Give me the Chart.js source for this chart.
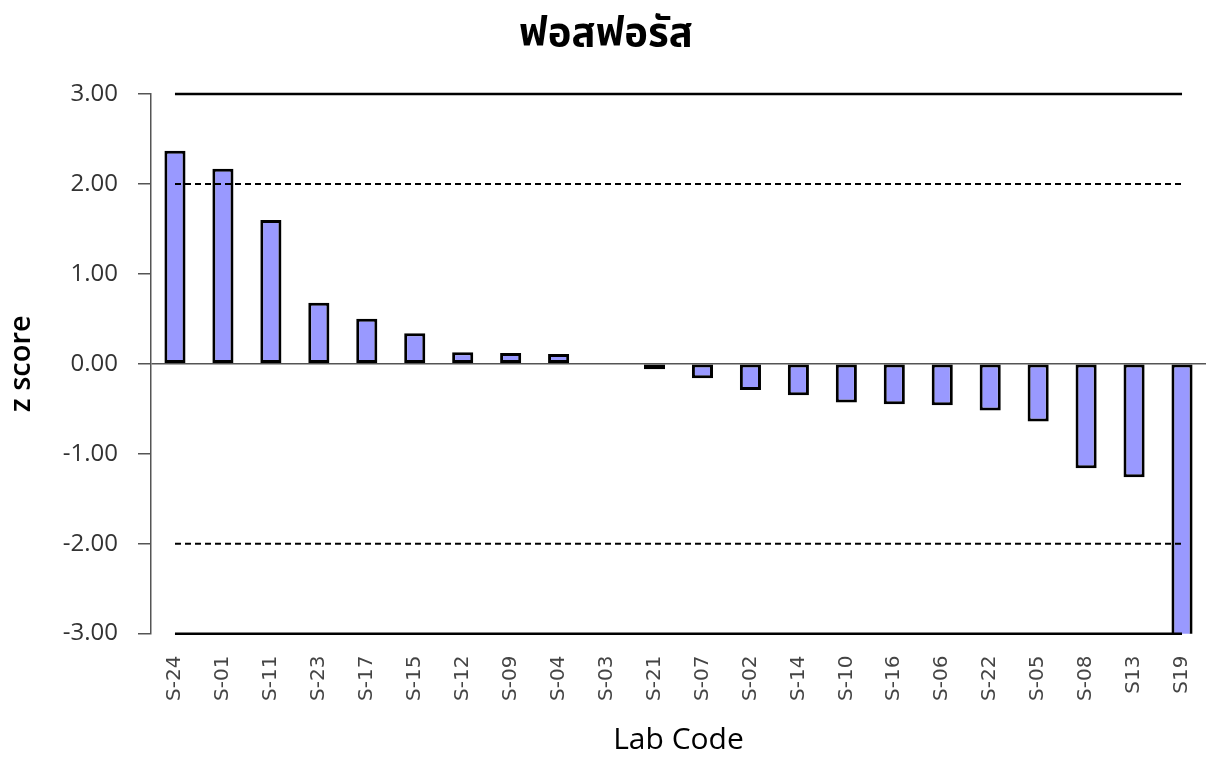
<!DOCTYPE html>
<html>
<head>
<meta charset="utf-8">
<script src="https://cdn.jsdelivr.net/npm/chart.js@4/dist/chart.umd.min.js"></script>
<style>
  body { margin: 0; background: #fff; }
</style>
</head>
<body>
<canvas id="zChart" width="1206" height="758"></canvas>
<script>
// lab codes, sorted by z score
const labCodes = ['S-24','S-01','S-11','S-23','S-17','S-15','S-12','S-09','S-04','S-03','S-21',
  'S-07','S-02','S-14','S-10','S-16','S-06','S-22','S-05','S-08','S13','S19'];
const zScores = [2.37, 2.17, 1.60, 0.68, 0.50, 0.34, 0.13, 0.12, 0.11, 0, -0.06,
  -0.16, -0.29, -0.35, -0.43, -0.45, -0.46, -0.52, -0.64, -1.16, -1.26, -3.5];
const yTicks = [3, 2, 1, 0, -1, -2, -3];
const warnLimit = 2;
const actionLimit = 3;

const flat = (v) => labCodes.map(() => v);

const ctx = document.getElementById('zChart').getContext('2d');
const zChart = new Chart(ctx, {
  data: {
    labels: labCodes,
    datasets: [
      {
        type: 'bar',
        data: zScores,
        backgroundColor: '#9999ff',
        borderColor: '#000',
        borderWidth: 3,
        borderSkipped: false,
        barPercentage: 0.44,
        categoryPercentage: 1,
        order: 2
      },
      { type: 'line', data: flat(actionLimit), borderColor: '#000', borderWidth: 2.5, pointRadius: 0, clip: 4, order: 1 },
      { type: 'line', data: flat(-actionLimit), borderColor: '#000', borderWidth: 2.5, pointRadius: 0, clip: 4, order: 1 },
      { type: 'line', data: flat(warnLimit), borderColor: '#000', borderWidth: 2, borderDash: [6, 4], pointRadius: 0, order: 1 },
      { type: 'line', data: flat(-warnLimit), borderColor: '#000', borderWidth: 2, borderDash: [6, 4], pointRadius: 0, order: 1 }
    ]
  },
  options: {
    responsive: false,
    animation: false,
    layout: { padding: { left: 4, right: -2, top: 0, bottom: 0 } },
    plugins: {
      legend: { display: false },
      tooltip: { enabled: false },
      title: {
        display: true,
        text: 'ฟอสฟอรัส',
        color: '#000',
        font: { size: 40, weight: 'bold', family: 'Tahoma, "Noto Sans Thai", "Noto Sans", sans-serif' },
        padding: { top: 14, bottom: 32 }
      }
    },
    scales: {
      x: {
        grid: { display: false },
        border: { display: false },
        // let the last category run to the right edge like the original
        afterFit: (s) => { s.paddingRight = 0; s.paddingLeft = 0; },
        ticks: {
          color: '#444',
          font: { size: 20, family: '"DejaVu Sans", sans-serif' },
          maxRotation: 90,
          minRotation: 90,
          padding: 14
        },
        title: {
          display: true,
          text: 'Lab Code',
          color: '#000',
          font: { size: 30, family: '"Open Sans", sans-serif' },
          padding: { top: 7, bottom: 0 }
        }
      },
      y: {
        min: -3,
        max: 3,
        afterBuildTicks: (axis) => { axis.ticks = yTicks.map(v => ({ value: v })); },
        grid: {
          drawOnChartArea: true,
          tickLength: 13,
          color: (c) => c.tick && c.tick.value === 0 ? '#555' : 'rgba(0,0,0,0)',
          tickColor: '#555',
          lineWidth: 1.5
        },
        border: { display: true, color: '#555', width: 1.5 },
        ticks: {
          color: '#333',
          font: { size: 24, family: '"Open Sans", sans-serif' },
          padding: 20,
          callback: (v) => Number(v).toFixed(2)
        },
        title: {
          display: true,
          text: 'z score',
          color: '#000',
          font: { size: 29, weight: '600', family: '"Open Sans", sans-serif' },
          padding: { top: 0, bottom: 4 }
        }
      }
    }
  }
});
</script>
</body>
</html>
